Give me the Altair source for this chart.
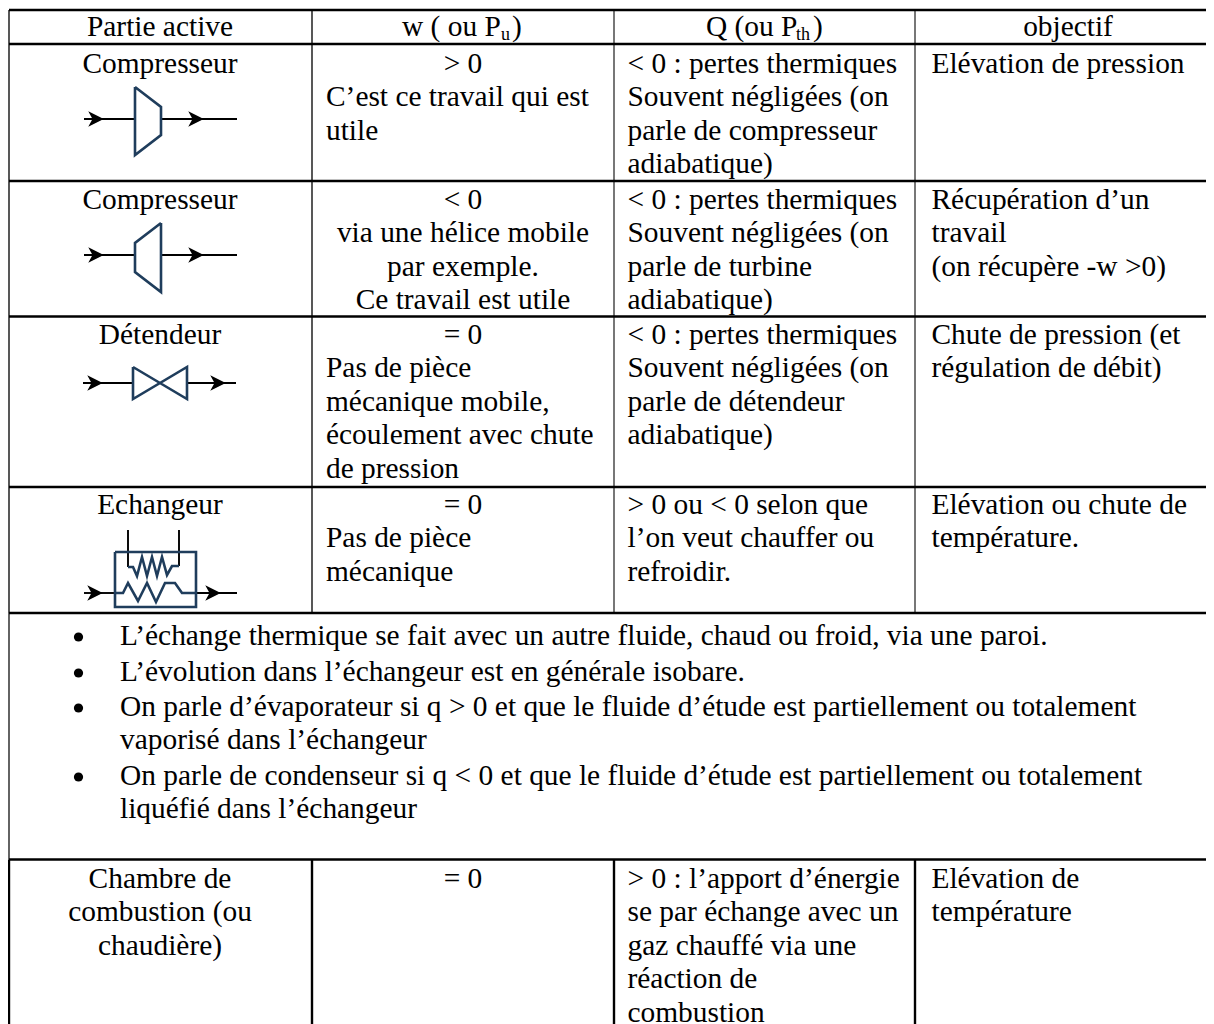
import altair as alt
import pandas as pd

FONT = "Liberation Serif"
LINE = 33.4

# ---- table grid (in picture units) ----
col_edges = [9, 312, 614, 915, 1206]
row_edges = [10, 44, 181, 316.5, 487, 613, 859.5, 1024]

col_left = [None, 326, 627.5, 931.5]
col_center = [160, 463, 764, 1068]

# ---- cells: (column, first baseline, lines, centred?) ----
cells = [
    (0, 36, ["Partie active"], True),
    (3, 36, ["objectif"], True),
    (0, 73, ["Compresseur"], True),
    (1, 73, ["> 0"], True),
    (1, 106.4, ["C’est ce travail qui est", "utile"], False),
    (2, 73, ["< 0 : pertes thermiques", "Souvent négligées (on", "parle de compresseur", "adiabatique)"], False),
    (3, 73, ["Elévation de pression"], False),
    (0, 209, ["Compresseur"], True),
    (1, 209, ["< 0", "via une hélice mobile", "par exemple.", "Ce travail est utile"], True),
    (2, 209, ["< 0 : pertes thermiques", "Souvent négligées (on", "parle de turbine", "adiabatique)"], False),
    (3, 209, ["Récupération d’un", "travail", "(on récupère -w >0)"], False),
    (0, 344, ["Détendeur"], True),
    (1, 344, ["= 0"], True),
    (1, 377.4, ["Pas de pièce", "mécanique mobile,", "écoulement avec chute", "de pression"], False),
    (2, 344, ["< 0 : pertes thermiques", "Souvent négligées (on", "parle de détendeur", "adiabatique)"], False),
    (3, 344, ["Chute de pression (et", "régulation de débit)"], False),
    (0, 514, ["Echangeur"], True),
    (1, 514, ["= 0"], True),
    (1, 547.4, ["Pas de pièce", "mécanique"], False),
    (2, 514, ["> 0 ou < 0 selon que", "l’on veut chauffer ou", "refroidir."], False),
    (3, 514, ["Elévation ou chute de", "température."], False),
    (0, 888, ["Chambre de", "combustion (ou", "chaudière)"], True),
    (1, 888, ["= 0"], True),
    (2, 888, ["> 0 : l’apport d’énergie", "se par échange avec un", "gaz chauffé via une", "réaction de", "combustion"], False),
    (3, 888, ["Elévation de", "température"], False),
]

# ---- header pieces with subscripts ----
head_main = ["w ( ou P", ")", "Q (ou P", ")"]
head_main_x = [402, 512, 706, 813]
head_sub = ["u", "th"]
head_sub_x = [501, 796]

# ---- notes ----
notes = [
    "L’échange thermique se fait avec un autre fluide, chaud ou froid, via une paroi.",
    "L’évolution dans l’échangeur est en générale isobare.",
    "On parle d’évaporateur si q > 0 et que le fluide d’étude est partiellement ou totalement",
    "vaporisé dans l’échangeur",
    "On parle de condenseur si q < 0 et que le fluide d’étude est partiellement ou totalement",
    "liquéfié dans l’échangeur",
]
note_y = [645, 681, 716, 749, 785, 818]
bullet_y = [637, 673, 708, 777]
bullet_x = 78.5

# ---- symbols ----
compresseur = [(135, 87), (161, 107), (161, 135), (135, 155), (135, 87)]
turbine = [(161, 223), (135, 243), (135, 272), (161, 292), (161, 223)]
detendeur = [(133, 367), (187, 399), (187, 367), (133, 399), (133, 367)]
boite = [(115, 552), (196, 552), (196, 607), (115, 607), (115, 552)]
bobine_haut = [(128, 567), (133, 567), (137, 576), (142, 557), (147, 576), (152, 557),
               (157, 576), (162, 557), (167, 575), (172, 566), (179, 566)]
bobine_bas = [(115, 593), (123, 593), (128, 583), (138, 601), (147, 583), (156, 602),
              (165, 583), (175, 583), (182, 593), (196, 593)]
navy_shapes = [compresseur, turbine, detendeur, boite, bobine_haut, bobine_bas]

fils = [
    [(84, 119), (135, 119)], [(161, 119), (237, 119)],
    [(84, 255), (135, 255)], [(161, 255), (237, 255)],
    [(83, 383), (133, 383)], [(187, 383), (236, 383)],
    [(84, 593), (115, 593)], [(196, 593), (237, 593)],
    [(128, 530), (128, 567)], [(179, 530), (179, 566)],
]
fleches_x = [96, 196, 96, 196, 95, 218, 95, 213]
fleches_y = [119, 119, 255, 255, 383, 383, 593, 593]

# ---- data frames ----
rows = []
for col, y0, lines, centred in cells:
    for i, t in enumerate(lines):
        rows.append({"t": t, "y": y0 + i * LINE,
                     "x": col_center[col] if centred else col_left[col],
                     "c": centred})
txt = pd.DataFrame(rows)

X = alt.X("x:Q", scale=alt.Scale(domain=[8, 1206], nice=False, zero=False), axis=None)
Y = alt.Y("y:Q", scale=alt.Scale(domain=[1024, 8], nice=False, zero=False), axis=None)


def text_layer(df, align, size=29.4):
    return alt.Chart(df).mark_text(font=FONT, fontSize=size, align=align, baseline="alphabetic",
                                   color="#000000").encode(x=X, y=Y, text="t:N")


def polylines(shapes, color, width):
    recs = []
    for k, s in enumerate(shapes):
        for j, (a, b) in enumerate(s):
            recs.append({"k": k, "j": j, "x": a, "y": b})
    return alt.Chart(pd.DataFrame(recs)).mark_line(color=color, strokeWidth=width, strokeJoin="miter").encode(
        x=X, y=Y, detail="k:N", order="j:Q")


def hrules(ys, xa, xb, color, width):
    d = pd.DataFrame({"y": ys, "x": [xa] * len(ys), "x2": [xb] * len(ys)})
    return alt.Chart(d).mark_rule(color=color, strokeWidth=width).encode(x=X, x2="x2:Q", y=Y)


def vrules(xs, ya, yb, color, width):
    d = pd.DataFrame({"x": xs, "y": [ya] * len(xs), "y2": [yb] * len(xs)})
    return alt.Chart(d).mark_rule(color=color, strokeWidth=width).encode(x=X, y=Y, y2="y2:Q")


layers = [
    vrules([col_edges[0], col_edges[1]], row_edges[0], row_edges[5], "#111111", 1.4),
    vrules([col_edges[2], col_edges[3]], row_edges[0], row_edges[5], "#555555", 1.6),
    vrules([col_edges[0]], row_edges[5], row_edges[6], "#222222", 1.4),
    vrules(col_edges[:4], row_edges[6], row_edges[7], "#000000", 2.4),
    hrules(row_edges[:7], col_edges[0], col_edges[4], "#000000", 2.6),
    polylines(fils, "#000000", 1.9),
    polylines(navy_shapes, "#1f3d5c", 2.6),
    alt.Chart(pd.DataFrame({"x": fleches_x, "y": fleches_y})).mark_point(
        shape="M -1 -1 L 1 0 L -1 1 L -0.45 0 Z", filled=True, size=240, color="#000000", opacity=1
    ).encode(x=X, y=Y),
    text_layer(txt[txt.c], "center"),
    text_layer(txt[~txt.c], "left"),
    text_layer(pd.DataFrame({"t": head_main, "x": head_main_x, "y": [36] * 4}), "left"),
    text_layer(pd.DataFrame({"t": head_sub, "x": head_sub_x, "y": [40] * 2}), "left", 18),
    text_layer(pd.DataFrame({"t": notes, "x": [120] * 6, "y": note_y}), "left"),
    alt.Chart(pd.DataFrame({"x": [bullet_x] * 4, "y": bullet_y})).mark_circle(
        size=85, color="#000000", opacity=1).encode(x=X, y=Y),
]

chart = alt.layer(*layers).properties(
    width=1198, height=1016, padding=0, autosize=alt.AutoSizeParams(type="none"),
    background="#ffffff"
).configure_view(stroke=None)

chart.save("out.html", embed_options={"renderer": "svg", "actions": False})
